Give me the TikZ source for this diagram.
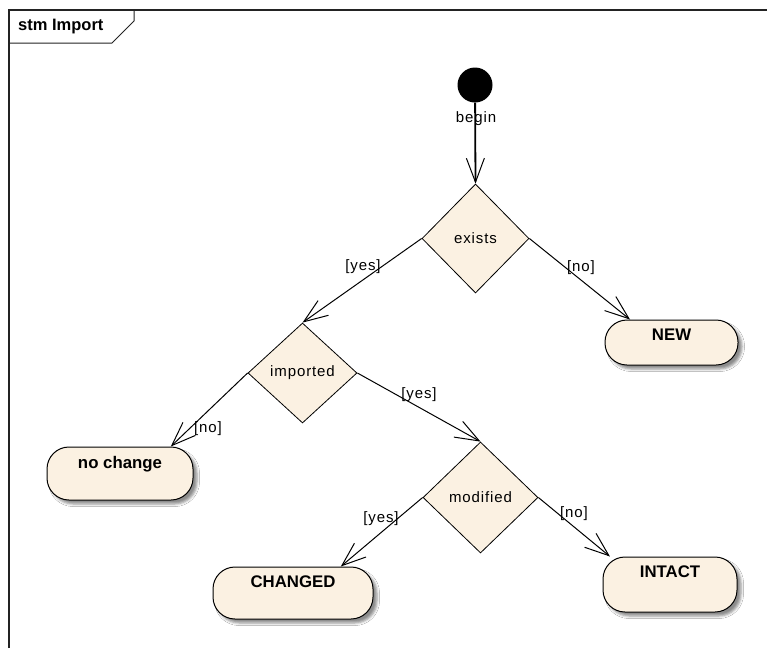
\documentclass[tikz,border=0pt]{standalone}
\usepackage{fontspec}
\setmainfont{Liberation Sans}
\newfontfamily\guardfont[LetterSpace=6]{Liberation Sans}
\usetikzlibrary{shapes.geometric, arrows.meta, shadows.blur}
\definecolor{statefill}{RGB}{251,241,226}
\definecolor{framegray}{RGB}{35,35,35}

\begin{document}
\begin{tikzpicture}[x=1pt, y=-1pt,
  decision/.style={diamond, draw, line width=0.8pt, fill=statefill, inner sep=0pt,
    font=\guardfont\fontsize{15}{18}\selectfont},
  state/.style={rectangle, rounded corners=22pt, draw, line width=1pt, fill=statefill,
    inner sep=0pt,
    blur shadow={shadow xshift=4pt, shadow yshift=-4pt, shadow blur radius=2.5pt, shadow opacity=45}},
  statename/.style={font=\bfseries\fontsize{16.8}{20}\selectfont, inner sep=0pt},
  guard/.style={font=\guardfont\fontsize{15}{18}\selectfont, inner sep=0pt},
  flow/.style={line width=1pt, -{Straight Barb[length=24pt, width=18pt]}},
]
% canvas
\fill[white] (0,0) rectangle (767,648);
\useasboundingbox (0,0) rectangle (767,648);

% diagram frame with its name tab
\draw[framegray, line width=1.2pt] (9,648) -- (9,10) -- (767,10);
\draw[framegray, line width=1pt] (9,43) -- (112,43) -- (134,21) -- (134,10);
\node[anchor=west, font=\bfseries\fontsize{16.5}{20}\selectfont, inner sep=0pt] (title) at (18,27) {stm Import};

% pseudo-state and decisions
\node[circle, fill=black, minimum size=35pt, inner sep=0pt] (init) at (475,85) {};
\node[decision, minimum width=107pt, minimum height=109pt] (exists) at (475.5,238.5) {exists};
\node[decision, minimum width=109pt, minimum height=100pt] (imported) at (302.5,373) {imported};
\node[decision, minimum width=115pt, minimum height=111pt] (modified) at (480.5,497.5) {modified};

% states
\node[state, minimum width=133pt, minimum height=45pt,
  label={[statename, name=newtxt, yshift=7.5pt]center:NEW}] (new) at (671.5,342.5) {};
\node[state, minimum width=146pt, minimum height=53pt,
  label={[statename, name=nochangetxt, yshift=9.5pt]center:no change}] (nochange) at (120,473.5) {};
\node[state, minimum width=160pt, minimum height=52pt,
  label={[statename, name=changedtxt, yshift=11pt]center:CHANGED}] (changed) at (293,593) {};
\node[state, minimum width=134pt, minimum height=55pt,
  label={[statename, name=intacttxt, yshift=12.5pt]center:INTACT}] (intact) at (670,584.5) {};

% transitions
\draw[line width=1.8pt, -{Straight Barb[length=24pt, width=18pt, line width=1pt]}]
  (init) -- (exists.north);
\draw[flow] (exists.west) -- (imported.north);
\draw[flow] (exists.east) -- (new.151.5);
\draw[flow] (imported.west) -- (nochange.28.9);
\draw[flow] (imported.east) -- (modified.north);
\draw[flow] (modified.west) -- (changed.29);
\draw[flow] (modified.east) -- (intact.155.4);

% transition labels
\node[guard] (lbegin) at (476,119) {begin};
\node[guard] (lyes1) at (363,267) {[yes]};
\node[guard] (lno1) at (581,268) {[no]};
\node[guard] (lno2) at (208,429) {[no]};
\node[guard] (lyes2) at (419,395) {[yes]};
\node[guard] (lyes3) at (381,519) {[yes]};
\node[guard] (lno3) at (574,514) {[no]};
\end{tikzpicture}
\end{document}
